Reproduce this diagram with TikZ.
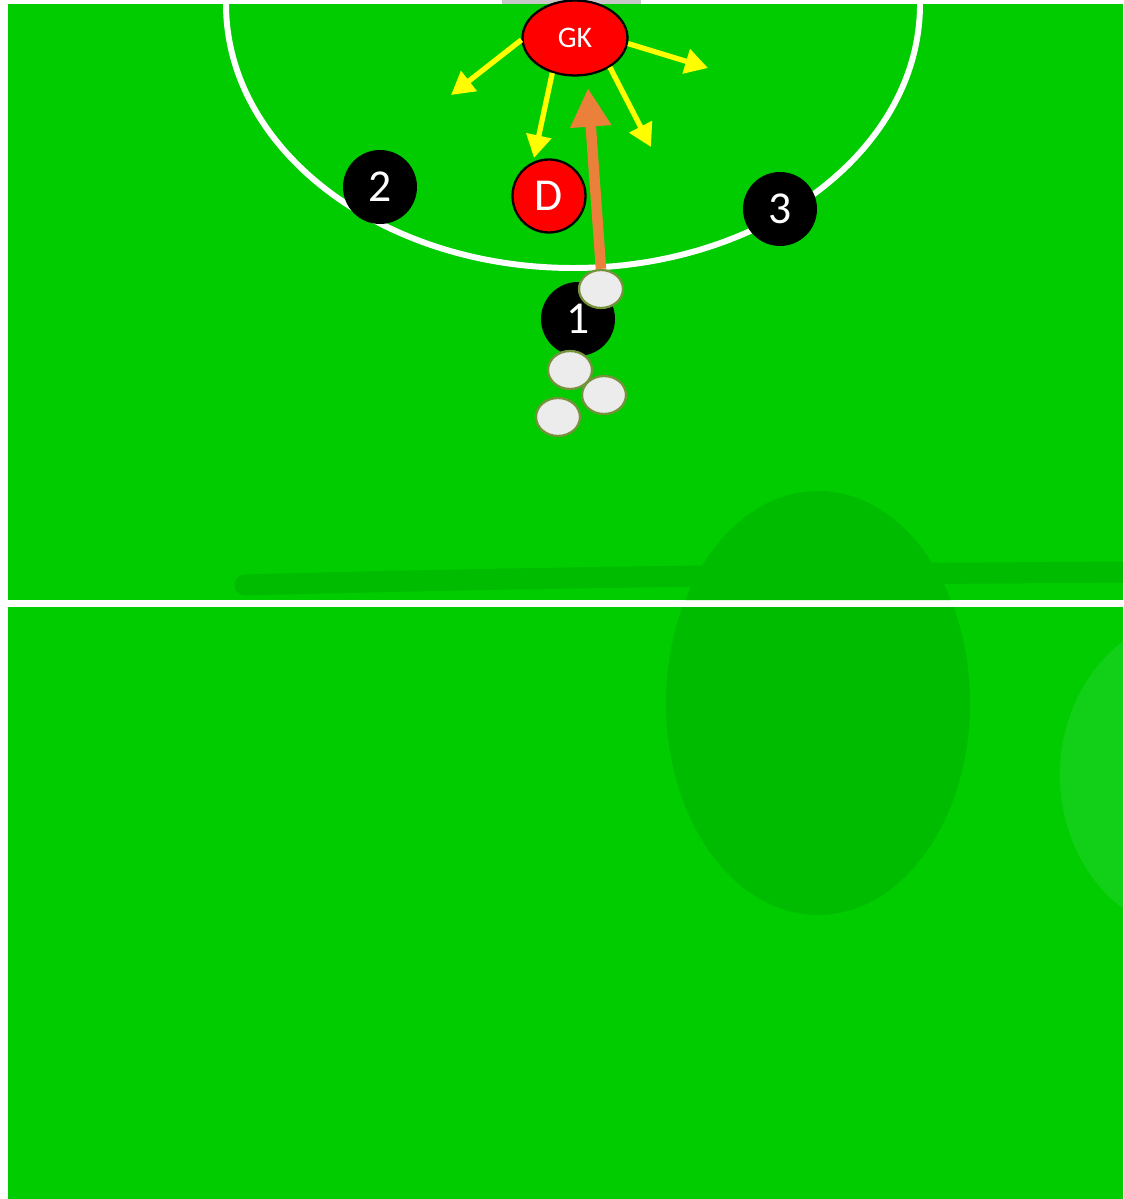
\documentclass[tikz,border=0pt]{standalone}
\usepackage{fontspec}
\setmainfont{Carlito}
\usetikzlibrary{arrows.meta,shapes.geometric}
\definecolor{pitch}{RGB}{0,204,0}
\definecolor{pitchdark}{RGB}{0,188,0}
\definecolor{pitchlight}{RGB}{18,208,24}
\definecolor{gkred}{RGB}{255,0,0}
\definecolor{ballrim}{RGB}{118,146,60}
\definecolor{ballfill}{RGB}{236,236,236}
\definecolor{runorange}{RGB}{234,128,58}
\definecolor{moveyellow}{RGB}{255,255,0}
\definecolor{goalgrey}{RGB}{200,200,200}

\begin{document}
\begin{tikzpicture}[
    x=0.02cm,y=-0.02cm,
    attacker/.style={circle,fill=black,text=white,minimum size=1.48cm,inner sep=0pt,
      font=\fontsize{26}{26}\selectfont},
    defender/.style={circle,draw=black,line width=1.3pt,fill=gkred,text=white,
      minimum size=1.46cm,inner sep=0pt,font=\fontsize{26}{26}\selectfont},
    keeper/.style={ellipse,draw=black,line width=1.3pt,fill=gkred,text=white,
      minimum width=2.1cm,minimum height=1.5cm,inner sep=0pt,font=\fontsize{17}{17}\selectfont},
    ball/.style={ellipse,draw=ballrim,line width=1.3pt,fill=ballfill,
      minimum width=0.88cm,minimum height=0.76cm,inner sep=0pt},
    fieldline/.style={white,line width=3.4pt},
    move/.style={-{Triangle[length=13pt,width=14pt]},moveyellow,line width=3pt},
    run/.style={-{Triangle[length=22pt,width=22pt]},runorange,line width=6pt}
  ]
    \useasboundingbox (0,0) rectangle (1123,1199);
    \fill[white] (0,0) rectangle (1123,1199);
    \fill[pitch] (8,4) rectangle (1123,600);
    \fill[pitch] (8,607) rectangle (1123,1199);
    \begin{scope}
      \clip (8,4) rectangle (1123,600) (8,607) rectangle (1123,1199);
      \fill[pitchdark] (818,703) ellipse[x radius=152,y radius=212];
      \fill[pitchlight] (1200,775) ellipse[x radius=140,y radius=160];
      \draw[pitchdark,line width=12pt,line cap=round] (245,585) .. controls (500,578) and (800,574) .. (1130,572);
    \end{scope}
    \fill[goalgrey] (502,0) rectangle (641,4);
    \draw[fieldline] (226,4) arc[start angle=180,end angle=0,x radius=347,y radius=264];

    \node[attacker] (two) at (380,187) {2};
    \node[attacker] (three) at (780,209) {3};
    \node[attacker] (one) at (578,319) {1};
    \node[defender] (def) at (549,196) {D};
    \node[keeper] (gk) at (575,38) {GK};

    \node[ball] (ballA) at (601,289) {};
    \node[ball] (ballB) at (570,370) {};
    \node[ball] (ballC) at (604,395) {};
    \node[ball] (ballD) at (558,417) {};

    \coordinate (gkleft) at (451,95);
    \coordinate (gkdown) at (534,158);
    \coordinate (gkright) at (651,147);
    \coordinate (gkwide) at (708,68);
    \coordinate (shot) at (588,88);

    \draw[move] (gk.182) -- (gkleft);
    \draw[move] (gk.237) -- (gkdown);
    \draw[move] (gk.320) -- (gkright);
    \draw[move] (gk.354) -- (gkwide);
    \draw[run] (ballA.north) -- (shot);
  \end{tikzpicture}
\end{document}
